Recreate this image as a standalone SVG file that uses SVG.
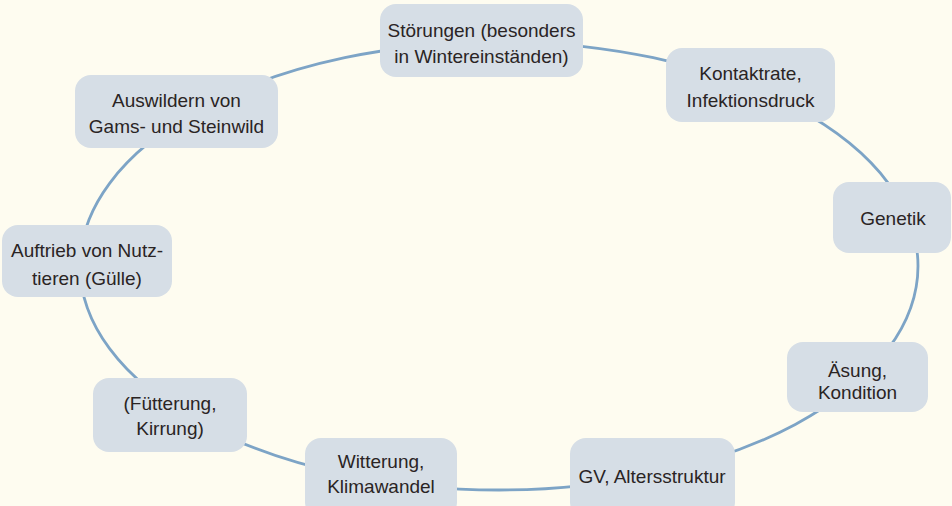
<svg xmlns="http://www.w3.org/2000/svg" width="952" height="506" viewBox="0 0 952 506">
<style>
.bg{fill:#FEFCF0}
.box{fill:#D6DEE6}
.t{font-family:"Liberation Sans",Arial,sans-serif;font-size:19px;fill:#2A2424;text-anchor:middle}
.ring{fill:none;stroke:#7DA4C6;stroke-width:2.8}
</style>
<rect class="bg" x="0" y="0" width="952" height="506"/>
<g id="connectors">
<ellipse class="ring" cx="499" cy="266" rx="419" ry="224"/>
</g>
<g id="n-stoerungen">
<rect class="box" x="380" y="4" width="203" height="73" rx="16"/>
<text class="t" x="481.5" y="37">Störungen (besonders</text>
<text class="t" x="481.5" y="63">in Wintereinständen)</text>
</g>
<g id="n-kontaktrate">
<rect class="box" x="666" y="48" width="169" height="74" rx="16"/>
<text class="t" x="750.5" y="80">Kontaktrate,</text>
<text class="t" x="750.5" y="107">Infektionsdruck</text>
</g>
<g id="n-genetik">
<rect class="box" x="833" y="182" width="118" height="71" rx="16"/>
<text class="t" x="893" y="225">Genetik</text>
</g>
<g id="n-aesung">
<rect class="box" x="787" y="342" width="141" height="70" rx="16"/>
<text class="t" x="857.5" y="377">Äsung,</text>
<text class="t" x="857.5" y="399">Kondition</text>
</g>
<g id="n-gv">
<rect class="box" x="570" y="438" width="165" height="80" rx="16"/>
<text class="t" x="652" y="483">GV, Altersstruktur</text>
</g>
<g id="n-witterung">
<rect class="box" x="305" y="438" width="152" height="80" rx="16"/>
<text class="t" x="381" y="468">Witterung,</text>
<text class="t" x="381" y="493">Klimawandel</text>
</g>
<g id="n-fuetterung">
<rect class="box" x="93" y="378" width="154" height="74" rx="16"/>
<text class="t" x="170" y="410">(Fütterung,</text>
<text class="t" x="170" y="435">Kirrung)</text>
</g>
<g id="n-auftrieb">
<rect class="box" x="2" y="225" width="170" height="72" rx="16"/>
<text class="t" x="87" y="257">Auftrieb von Nutz-</text>
<text class="t" x="87" y="285">tieren (Gülle)</text>
</g>
<g id="n-auswildern">
<rect class="box" x="75" y="75" width="203" height="73" rx="16"/>
<text class="t" x="176.5" y="107">Auswildern von</text>
<text class="t" x="176.5" y="133">Gams- und Steinwild</text>
</g>
</svg>
